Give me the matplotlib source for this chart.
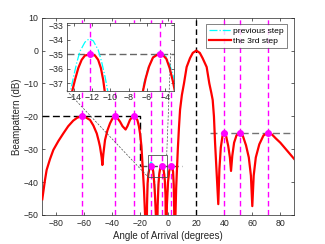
import numpy as np
import matplotlib.pyplot as plt
from matplotlib.lines import Line2D
from matplotlib.patches import Rectangle

plt.rcParams['font.family'] = ['Liberation Sans', 'DejaVu Sans']

# beampattern of the 3rd step (angle in degrees, level in dB)
angle = [-90, -88.1, -86.9, -84.5, -82.1, -78.5, -75, -71.5, -67.9, -65, -62, -59,
         -55.9, -53.5, -51.1, -49.7, -48.8, -47.6, -47.1, -46.4, -45.2, -43.5, -41.6,
         -39.8, -38, -36.2, -34.5, -32.7, -30.5, -29.2, -27.4, -26, -24.7, -23.4,
         -22.1, -21, -20.2, -19.2, -18.3, -17.4, -16.6, -15.6,
         -15.2, -14.8, -14.25, -13.89, -13.53, -13.16, -12.8, -12.25, -11.7, -11.35,
         -11.05, -10.8, -10.6, -10.1, -9.5, -8.9, -8.3,
         -7.6, -7.0, -6.49, -6.13, -5.77, -5.34, -4.9, -4.6, -4.24, -3.87, -3.51,
         -3.15, -2.85, -2.4, -2.0, -1.6,
         -1.0, -0.2, 0.6, 1.3, 2.0, 2.7, 3.4, 3.9, 4.2, 4.5,
         5.0, 5.6, 6.0, 6.8, 7.6, 8.4, 9.7, 11.2, 13.1, 15.5, 17.5, 20.0, 22.5, 24.5,
         27.4, 29.3, 30.7, 31.7, 32.6, 33.4, 34.5, 35.7,
         36.5, 37.5, 38.7, 40, 41.3, 42.8, 44, 44.8, 45.7, 47, 48.7, 51, 53.3, 55.5,
         57.5, 59, 60, 61, 62.5, 65, 68, 71, 74, 77, 80, 85, 90]
level = [-45.2, -39.4, -36.3, -33, -30.2, -27.5, -25.2, -23, -21.3, -20.4, -20, -20.3,
         -21.1, -22.8, -25.2, -27.5, -29.2, -32.5, -34.8, -31.5, -27.2, -24.3, -22.1,
         -20.6, -20, -20.6, -21.6, -23, -24, -23, -21.1, -20.3, -20, -20.4,
         -21.1, -23, -25.2, -29, -35.3, -42, -50, -65,
         -47, -40.5, -37.67, -36.75, -35.94, -35.37, -35.07, -35.0, -35.07, -35.37,
         -35.94, -36.75, -37.67, -40, -44, -50, -65,
         -47, -40.5, -37.67, -36.63, -35.83, -35.21, -35.03, -35.0, -35.05, -35.3, -35.94,
         -36.86, -37.8, -40, -44, -65,
         -47, -40, -36.8, -35.4, -35, -35.4, -36.8, -41, -48, -65,
         -52, -42, -38, -30, -23.5, -18, -13.5, -10, -5, -2.3, -0.7, 0, -0.7, -2.3,
         -5, -10, -12.8, -15, -20, -28, -37, -46.7,
         -36, -29.5, -26, -25, -26, -29, -32.5, -36.6, -32, -28, -25.8, -25, -26, -28.8,
         -32.5, -38, -47.3, -38, -32.5, -28.5, -25.8, -25, -25.5, -26.8, -28, -30.5, -33]

# previous step (only differs around the -35 dB sector)
prev_angle = [-15.6, -15.1, -14.44, -14.08, -13.71, -13.35, -12.8, -12.33, -11.89, -11.35,
              -10.98, -10.6, -10.25, -9.6, -8.9, -8.3,
              -7.6, -7.0, -6.55, -6.2, -5.8, -5.3, -4.8, -4.4, -3.9, -3.5, -3.1, -2.75,
              -2.3, -1.9, -1.6,
              -1.0, -0.2, 0.6, 1.3, 2.0, 2.7, 3.4, 3.9, 4.2, 4.5]
prev_level = [-65, -45, -37.67, -36.63, -35.6, -34.79, -34.15, -33.92, -34.06, -34.68,
              -35.48, -36.52, -37.67, -41, -48, -65,
              -47, -40.3, -37.67, -36.6, -35.8, -35.15, -34.9, -34.92, -35.15, -35.7,
              -36.5, -37.6, -40, -44, -65,
              -47, -40, -36.8, -35.4, -35, -35.4, -36.8, -41, -48, -65]

peak_angle = [-62, -38, -24.7, -12.25, -4.6, 2, 40, 51, 71]
peak_level = [-20, -20, -20, -35, -35, -35, -25, -25, -25]
target_angle = 20

# desired sidelobe masks
mask1_x = [-90, -20.2, -20.2]
mask1_y = [-20, -20, -35]
mask2_x = [-20.2, 9.5]
mask2_y = [-35, -35]
mask3_x = [30, 90]
mask3_y = [-25, -25]

W, H = 325, 244
fig = plt.figure(figsize=(3.25, 2.44), dpi=100)
ax = fig.add_axes([42.3 / W, 1 - 215 / H, 252 / W, 197.3 / H])

magenta = (1, 0, 1)
for a in peak_angle:
    ax.axvline(a, color=magenta, ls=(0, (4, 2.5)), lw=1.0, zorder=3)
ax.axvline(target_angle, color='k', ls=(0, (4, 2.5)), lw=1.0, zorder=3)
ax.plot(mask1_x, mask1_y, color='k', ls=(0, (5, 2.5)), lw=1.0, zorder=2)
ax.plot(mask2_x, mask2_y, color='0.3', ls=(0, (5, 2.5)), lw=1.0, zorder=2)
ax.plot(mask3_x, mask3_y, color='0.45', ls=(0, (5, 2.5)), lw=1.0, zorder=2)
ax.plot(prev_angle, prev_level, color='cyan', ls='-.', lw=0.9, zorder=4,
        label='previous step')
ax.plot(angle, level, color='red', lw=1.6, zorder=5, label='the 3rd step')
ax.plot(peak_angle, peak_level, 'o', color=magenta, ms=4, zorder=6)

# zoom box
ax.add_patch(Rectangle((-14.3, -38.5), 13.2, 6.8, fill=False, ec='0.3', lw=0.6, zorder=7))

ax.set_xlim(-90, 90)
ax.set_ylim(-50, 10)
ax.set_xticks(np.arange(-80, 81, 20))
ax.set_yticks(np.arange(-50, 11, 10))
ax.set_xlabel('Angle of Arrival (degrees)', fontsize=7, color='0.15', labelpad=2)
ax.set_ylabel('Beampattern (dB)', fontsize=7, color='0.15', labelpad=1)
ax.tick_params(direction='in', top=True, right=True, length=2.5, width=0.5,
               labelsize=6.3, colors='0.15', pad=3)
for s in ax.spines.values():
    s.set_color('0.15')
    s.set_linewidth(0.5)

leg = ax.legend(loc='upper right', bbox_to_anchor=(287 / W, 1 - 24 / H),
                bbox_transform=fig.transFigure, fontsize=6.1, frameon=True,
                fancybox=False, edgecolor='0.15', handlelength=2.6, borderpad=0.35,
                labelspacing=0.3, handletextpad=0.3, borderaxespad=0)
leg.get_frame().set_linewidth(0.5)

# inset
ins = fig.add_axes([66.7 / W, 1 - 90.7 / H, 107.6 / W, 67.4 / H])
for a in peak_angle:
    ins.axvline(a, color=magenta, ls=(0, (4, 2.5)), lw=1.0, zorder=3)
ins.axhline(-35, color='0.4', ls=(0, (5, 2.5)), lw=1.0, zorder=2)
ins.plot(prev_angle, prev_level, color='cyan', ls='-.', lw=0.9, zorder=4)
ins.plot(angle, level, color='red', lw=1.6, zorder=5)
ins.plot(peak_angle, peak_level, 'o', color=magenta, ms=4, zorder=6)
ins.set_xlim(-14.8, -3.0)
ins.set_ylim(-37.5, -32.85)
ins.set_xticks([-14, -12, -10, -8, -6, -4])
ins.set_yticks([-37, -36, -35, -34, -33])
ins.tick_params(direction='in', top=True, right=True, length=2, width=0.5,
                labelsize=6.3, colors='0.15', pad=2)
for s in ins.spines.values():
    s.set_color('0.15')
    s.set_linewidth(0.5)

# connector lines from the zoom box to the inset
for (x0, y0), (x1, y1) in [((66.7, 90.7), (148.3, 177.3)), ((170.7, 53), (166.7, 155))]:
    fig.add_artist(Line2D([x0 / W, x1 / W], [1 - y0 / H, 1 - y1 / H], color='0.3',
                          ls=(0, (3, 2)), lw=0.5, zorder=10))

fig.savefig('out.png', dpi=100)
